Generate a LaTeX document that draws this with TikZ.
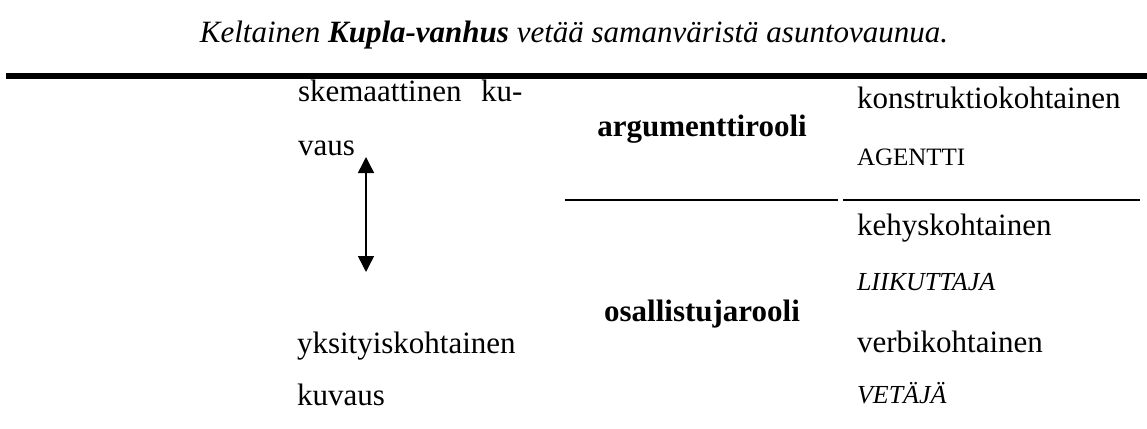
\documentclass[tikz,border=0pt]{standalone}
\usepackage{fontspec}
\setmainfont{Liberation Serif}
\usetikzlibrary{arrows.meta}
\begin{document}
\begin{tikzpicture}[x=1pt,y=-1pt,
  txt/.style={inner sep=0pt,outer sep=0pt,anchor=base west,font=\fontsize{31}{37}\selectfont},
  hd/.style={inner sep=0pt,outer sep=0pt,anchor=base,font=\fontsize{31}{37}\selectfont\bfseries},
  sm/.style={inner sep=0pt,outer sep=0pt,anchor=base west,font=\fontsize{25}{30}\selectfont},
  smi/.style={inner sep=0pt,outer sep=0pt,anchor=base west,font=\fontsize{26}{31}\selectfont\itshape},
  rule/.style={line width=2pt},
  dblarrow/.style={line width=1.5pt,{Triangle[width=16pt,length=16pt]}-{Triangle[width=16pt,length=16pt]}}]
\useasboundingbox (0,0) rectangle (1147,428);
% title
\node[inner sep=0pt,anchor=base,font=\fontsize{31}{37}\selectfont\itshape] (title) at (574,43)
  {Keltainen \textbf{Kupla-vanhus} vetää samanväristä asuntovaunua.};
% thick rule
\coordinate (t1) at (6,76);
\coordinate (t2) at (1147,76);
\draw[line width=6pt] (t1) -- (t2);
% left column
\node[txt] (sk) at (298,101) {skemaattinen};
\node[txt] (ku) at (481,101) {ku-};
\node[txt] (va) at (298,155) {vaus};
\node[txt] (yk) at (297,353) {yksityiskohtainen};
\node[txt] (kv) at (297,405) {kuvaus};
\coordinate (aTop) at (366,157);
\coordinate (aBot) at (366,272);
\draw[dblarrow] (aTop) -- (aBot);
% middle column
\node[hd] (arg) at (702,136) {argumenttirooli};
\node[hd] (osa) at (702,321) {osallistujarooli};
% rules
\coordinate (r1a) at (565,200);
\coordinate (r1b) at (838,200);
\coordinate (r2a) at (843,200);
\coordinate (r2b) at (1140,200);
\draw[rule] (r1a) -- (r1b);
\draw[rule] (r2a) -- (r2b);
% right column
\node[txt] (ko) at (857,108) {konstruktiokohtainen};
\node[sm] (ag) at (857,165) {AGENTTI};
\node[txt] (ke) at (857,235) {kehyskohtainen};
\node[smi] (li) at (857,290) {LIIKUTTAJA};
\node[txt] (ve) at (857,352) {verbikohtainen};
\node[smi] (vt) at (857,403) {VETÄJÄ};
\end{tikzpicture}
\end{document}
